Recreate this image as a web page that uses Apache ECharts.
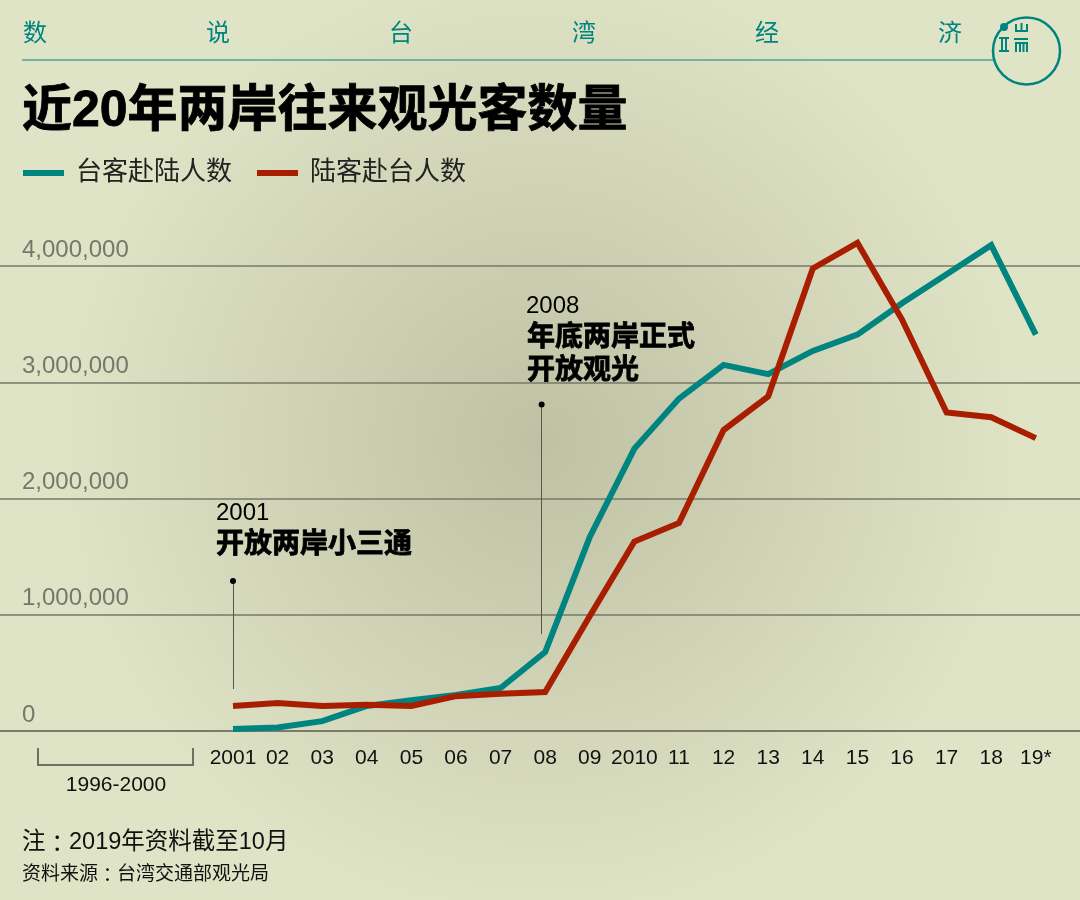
<!DOCTYPE html>
<html lang="zh">
<head>
<meta charset="UTF-8">
<title>近20年两岸往来观光客数量</title>
<script src="https://cdn.jsdelivr.net/npm/echarts@6/dist/echarts.min.js"></script>
<style>
html,body{margin:0;padding:0;background:#e0e4c6;}
#chart{width:1080px;height:900px;}
</style>
</head>
<body>
<div id="chart"></div>
<script>
var years = [2001,2002,2003,2004,2005,2006,2007,2008,2009,2010,2011,2012,2013,2014,2015,2016,2017,2018,2019];
var yearLabels = ['2001','02','03','04','05','06','07','08','09','2010','11','12','13','14','15','16','17','18','19*'];
var taiToMainland = [17000,30000,85000,215000,265000,310000,370000,680000,1670000,2430000,2860000,3150000,3070000,3270000,3410000,3680000,3930000,4180000,3410000];
var mainlandToTai = [215000,240000,215000,225000,215000,300000,320000,335000,990000,1630000,1790000,2590000,2880000,3980000,4200000,3540000,2740000,2700000,2520000];
var yTicks = ['0','1,000,000','2,000,000','3,000,000','4,000,000'];
var headerChars = ['数','说','台','湾','经','济'];
// annotation leader lines: [year, top value, bottom value]
var note2001 = [2001, 1290000, 361000];
var note2008 = [2007.92, 2810000, 834000];

var FONT = '"Liberation Sans","Noto Sans CJK SC",sans-serif';
var TEAL = '#00847f';
var RED = '#a81e00';

function txt(x, y, text, size, color, weight, align){
    var style = {
        text:text, fontFamily:FONT, fontSize:size, fill:color,
        fontWeight:weight||'normal', textAlign:align||'left', textVerticalAlign:'middle'
    };
    // the reference's bold face is heavier than Noto Bold
    if(weight === 'bold'){ style.stroke = color; style.lineWidth = 0.8; }
    return {type:'text', x:x, y:y, silent:true, style:style};
}
// footer lines: the full-width colon is centred in the TC font
function footnote(x, y, before, after, size){
    var el = txt(x, y, '{a|' + before + '}{c|：}{a|' + after + '}', size, '#111');
    el.style.rich = {
        a:{fontFamily:FONT, fontSize:size, fill:'#111', color:'#111'},
        c:{fontFamily:'"Noto Sans CJK TC"', fontSize:size, fill:'#111', color:'#111'}
    };
    return el;
}
function stroke(shapeType, shape, color, width, fill){
    return {type:shapeType, shape:shape, silent:true, style:{stroke:color, lineWidth:width, fill:fill||'none'}};
}

var graphics = [];
headerChars.forEach(function(c, i){
    graphics.push(txt(23 + i * 183, 34, c, 24, TEAL));
});
graphics.push(stroke('line', {x1:22,y1:60,x2:993,y2:60}, '#6fb3a6', 2));
graphics.push(stroke('circle', {cx:1026.5,cy:51,r:33.5}, TEAL, 2.5));
graphics.push({type:'circle', shape:{cx:1004,cy:27,r:4}, silent:true, style:{fill:TEAL}});
// logo strokes
graphics.push(stroke('polyline', {points:[[1016,24],[1016,31],[1027,31],[1027,24]]}, TEAL, 2));
graphics.push(stroke('line', {x1:1021.5,y1:23,x2:1021.5,y2:31}, TEAL, 2));
graphics.push(stroke('line', {x1:1014,y1:39,x2:1028,y2:39}, TEAL, 2));
graphics.push(stroke('polyline', {points:[[1016,52],[1016,43],[1027,43],[1027,52]]}, TEAL, 2));
graphics.push(stroke('line', {x1:1020,y1:43,x2:1020,y2:52}, TEAL, 2));
graphics.push(stroke('line', {x1:1023.5,y1:43,x2:1023.5,y2:52}, TEAL, 2));
graphics.push(stroke('line', {x1:999,y1:38,x2:1009,y2:38}, TEAL, 2));
graphics.push(stroke('line', {x1:999,y1:51,x2:1009,y2:51}, TEAL, 2));
graphics.push(stroke('line', {x1:1002,y1:38,x2:1002,y2:51}, TEAL, 2));
graphics.push(stroke('line', {x1:1006,y1:38,x2:1006,y2:51}, TEAL, 2));

graphics.push(txt(22, 112, '近20年两岸往来观光客数量', 50, '#000', 'bold'));

graphics.push(txt(216, 513, '2001', 24, '#000'));
graphics.push(txt(216, 545, '开放两岸小三通', 28, '#000', 'bold'));
graphics.push(txt(526, 306, '2008', 24, '#000'));
graphics.push(txt(527, 338, '年底两岸正式', 28, '#000', 'bold'));
graphics.push(txt(527, 371, '开放观光', 28, '#000', 'bold'));

graphics.push(stroke('polyline', {points:[[38,748],[38,765],[193,765],[193,748]]}, '#6f7062', 2));
graphics.push(txt(116, 785, '1996-2000', 21, '#111', 'normal', 'center'));
graphics.push(footnote(22, 843, '注', '2019年资料截至10月', 23.5));
graphics.push(footnote(22, 875, '资料来源', '台湾交通部观光局', 19));

var chart = echarts.init(document.getElementById('chart'), null, {renderer:'canvas', width:1080, height:900});
chart.setOption({
    animation:false,
    backgroundColor:{type:'radial', x:0.5, y:0.49, r:0.54, colorStops:[
        {offset:0, color:'#bfc1a5'},
        {offset:0.5, color:'#cfd2b5'},
        {offset:1, color:'#e0e4c6'}
    ]},
    color:[TEAL, RED],
    textStyle:{fontFamily:FONT},
    legend:{
        left:18, top:155, itemWidth:41, itemHeight:6, itemGap:25, icon:'rect',
        textStyle:{fontFamily:FONT, fontSize:26, color:'#222', padding:[0,0,0,7]},
        data:['台客赴陆人数','陆客赴台人数']
    },
    grid:{left:-34.6, top:208, width:1115, height:523, outerBoundsMode:'none'},
    xAxis:{
        type:'value', min:1995, max:2020, interval:1,
        splitLine:{show:false}, axisTick:{show:false},
        axisLine:{show:true, lineStyle:{color:'#7a7b6c', width:2}},
        axisLabel:{
            margin:17, fontFamily:FONT, fontSize:21, color:'#111',
            formatter:function(v){
                var i = years.indexOf(v);
                return i < 0 ? '' : yearLabels[i];
            }
        }
    },
    yAxis:{
        type:'value', min:0, max:4500000, interval:1000000,
        axisLine:{show:false}, axisTick:{show:false},
        splitLine:{show:true, showMaxLine:false, lineStyle:{color:'#77786a', width:1.5}},
        axisLabel:{
            inside:true, margin:56.6, showMaxLabel:false, align:'left', verticalAlign:'bottom',
            padding:[0,0,4,0], fontFamily:FONT, fontSize:24, color:'#77776c',
            formatter:function(v){ return yTicks[v / 1000000] || ''; }
        }
    },
    series:[{
        name:'台客赴陆人数', type:'line', symbol:'none', z:3,
        lineStyle:{width:6, color:TEAL, cap:'butt', join:'miter'}, itemStyle:{color:TEAL},
        data:years.map(function(y,i){ return [y, taiToMainland[i]]; }),
        markLine:{
            silent:true, symbol:'none', label:{show:false},
            lineStyle:{color:'#55564c', width:1, type:'solid'},
            data:[
                [{coord:[note2001[0],note2001[1]]},{coord:[note2001[0],note2001[2]]}],
                [{coord:[note2008[0],note2008[1]]},{coord:[note2008[0],note2008[2]]}]
            ]
        },
        markPoint:{
            silent:true, symbol:'circle', symbolSize:6, label:{show:false}, itemStyle:{color:'#000'},
            data:[{coord:[note2001[0],note2001[1]]},{coord:[note2008[0],note2008[1]]}]
        }
    },{
        name:'陆客赴台人数', type:'line', symbol:'none', z:4,
        lineStyle:{width:6, color:RED, cap:'butt', join:'miter'}, itemStyle:{color:RED},
        data:years.map(function(y,i){ return [y, mainlandToTai[i]]; })
    }],
    graphic:{elements:graphics}
});
</script>
</body>
</html>
